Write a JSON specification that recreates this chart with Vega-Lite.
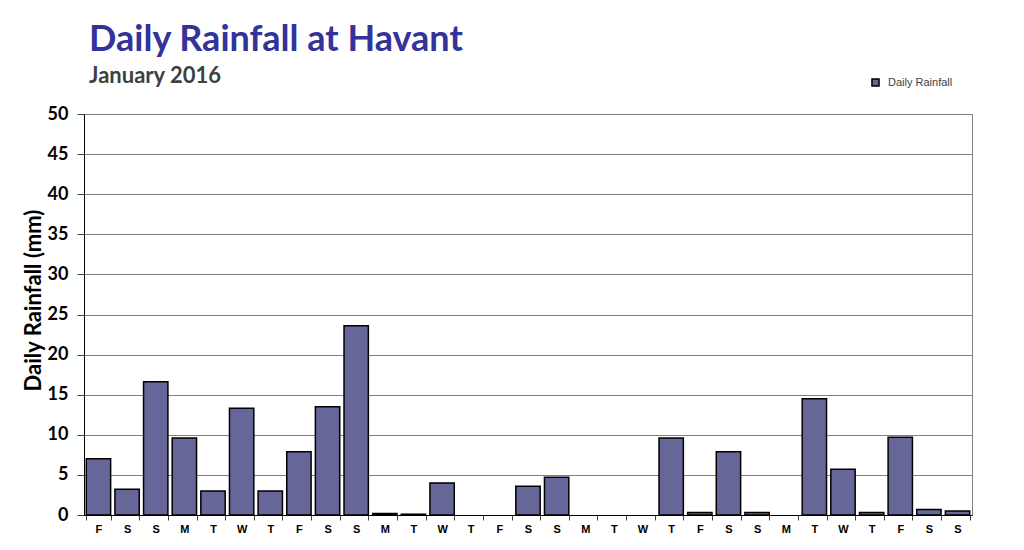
{
  "$schema": "https://vega.github.io/schema/vega-lite/v6.json",
  "autosize": "none",
  "width": 888,
  "height": 401,
  "padding": {"left": 84, "top": 114, "right": 52, "bottom": 35},
  "background": "white",
  "title": {
    "text": "Daily Rainfall at Havant",
    "subtitle": "January 2016",
    "anchor": "start",
    "dx": 67,
    "offset": -11,
    "font": "Lato",
    "fontSize": 36,
    "fontWeight": "bold",
    "color": "#333399",
    "subtitleFont": "Lato",
    "subtitleFontSize": 22,
    "subtitleFontWeight": "bold",
    "subtitleColor": "#404040",
    "subtitlePadding": 7
  },
  "data": {
    "values": [
      {"day": 1, "rain": 7.0, "series": "Daily Rainfall"},
      {"day": 2, "rain": 3.2, "series": "Daily Rainfall"},
      {"day": 3, "rain": 16.6, "series": "Daily Rainfall"},
      {"day": 4, "rain": 9.6, "series": "Daily Rainfall"},
      {"day": 5, "rain": 3.0, "series": "Daily Rainfall"},
      {"day": 6, "rain": 13.3, "series": "Daily Rainfall"},
      {"day": 7, "rain": 3.0, "series": "Daily Rainfall"},
      {"day": 8, "rain": 7.9, "series": "Daily Rainfall"},
      {"day": 9, "rain": 13.5, "series": "Daily Rainfall"},
      {"day": 10, "rain": 23.6, "series": "Daily Rainfall"},
      {"day": 11, "rain": 0.2, "series": "Daily Rainfall"},
      {"day": 12, "rain": 0.1, "series": "Daily Rainfall"},
      {"day": 13, "rain": 4.0, "series": "Daily Rainfall"},
      {"day": 14, "rain": 0, "series": "Daily Rainfall"},
      {"day": 15, "rain": 0, "series": "Daily Rainfall"},
      {"day": 16, "rain": 3.6, "series": "Daily Rainfall"},
      {"day": 17, "rain": 4.7, "series": "Daily Rainfall"},
      {"day": 18, "rain": 0, "series": "Daily Rainfall"},
      {"day": 19, "rain": 0, "series": "Daily Rainfall"},
      {"day": 20, "rain": 0, "series": "Daily Rainfall"},
      {"day": 21, "rain": 9.6, "series": "Daily Rainfall"},
      {"day": 22, "rain": 0.3, "series": "Daily Rainfall"},
      {"day": 23, "rain": 7.9, "series": "Daily Rainfall"},
      {"day": 24, "rain": 0.3, "series": "Daily Rainfall"},
      {"day": 25, "rain": 0, "series": "Daily Rainfall"},
      {"day": 26, "rain": 14.5, "series": "Daily Rainfall"},
      {"day": 27, "rain": 5.7, "series": "Daily Rainfall"},
      {"day": 28, "rain": 0.3, "series": "Daily Rainfall"},
      {"day": 29, "rain": 9.7, "series": "Daily Rainfall"},
      {"day": 30, "rain": 0.7, "series": "Daily Rainfall"},
      {"day": 31, "rain": 0.5, "series": "Daily Rainfall"}
    ]
  },
  "mark": {"type": "bar", "stroke": "#000000"},
  "encoding": {
    "x": {
      "field": "day",
      "type": "ordinal",
      "scale": {"paddingInner": 0.15, "paddingOuter": 0.08},
      "axis": {
        "title": null,
        "labelAngle": 0,
        "labelExpr": "['F','S','S','M','T','W','T'][(datum.value - 1) % 7]",
        "labelFont": "Liberation Sans",
        "labelFontSize": 11,
        "labelFontWeight": "bold",
        "labelColor": "#000000",
        "labelPadding": 3,
        "tickBand": "extent",
        "tickColor": "#404040",
        "tickSize": 5,
        "domainColor": "#000000",
        "domainWidth": 1
      }
    },
    "y": {
      "field": "rain",
      "type": "quantitative",
      "scale": {"domain": [0, 50], "nice": false},
      "axis": {
        "title": "Daily Rainfall (mm)",
        "titleFont": "Lato",
        "titleFontSize": 22,
        "titleFontWeight": "bold",
        "titleColor": "#000000",
        "titlePadding": 2,
        "titleY": 186,
        "values": [0, 5, 10, 15, 20, 25, 30, 35, 40, 45, 50],
        "labelFont": "Lato",
        "labelFontSize": 18,
        "labelFontWeight": "bold",
        "labelColor": "#000000",
        "labelPadding": 9,
        "tickSize": 7,
        "tickColor": "#404040",
        "domainColor": "#000000",
        "grid": true,
        "gridColor": "#808080",
        "gridWidth": 1
      }
    },
    "strokeWidth": {
      "condition": {"test": "datum.rain == 0", "value": 0},
      "value": 1.5
    },
    "color": {
      "field": "series",
      "type": "nominal",
      "scale": {"range": ["#666699"]},
      "legend": {
        "title": null,
        "orient": "none",
        "legendX": 786,
        "legendY": -37,
        "symbolType": "square",
        "symbolSize": 50,
        "symbolStrokeColor": "#000000",
        "symbolStrokeWidth": 1.5,
        "symbolOpacity": 1,
        "labelOffset": 7,
        "labelFont": "Liberation Sans",
        "labelFontSize": 11,
        "labelColor": "#404040"
      }
    }
  },
  "config": {
    "view": {"stroke": "#808080", "strokeWidth": 1}
  }
}
